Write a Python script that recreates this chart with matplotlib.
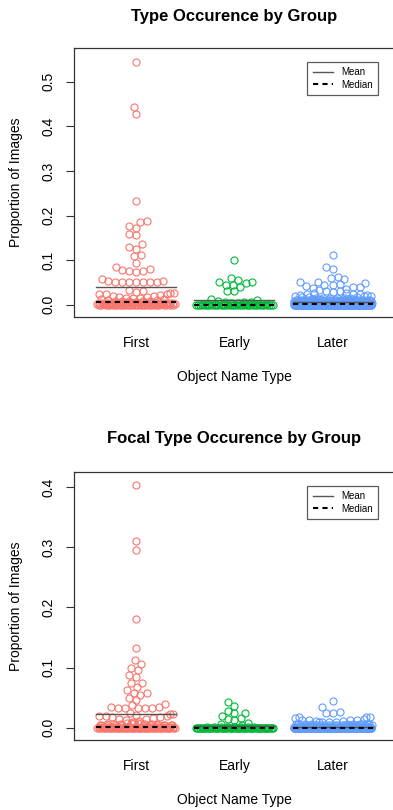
import numpy as np
import matplotlib
matplotlib.use("Agg")
import matplotlib.pyplot as plt
from matplotlib.lines import Line2D

plt.rcParams['font.family'] = ['Liberation Sans', 'DejaVu Sans']

groups = ["First", "Early", "Later"]
colors = ["#F8766D", "#00BA38", "#619CFF"]

titles = ["Type Occurence by Group", "Focal Type Occurence by Group"]
xlabel = "Object Name Type"
ylabel = "Proportion of Images"

# ---- Panel 1: Type occurrence ----
first1_top = [0.545, 0.443, 0.428, 0.232, 0.187, 0.186, 0.177, 0.173, 0.158, 0.156,
              0.135, 0.130, 0.126, 0.111, 0.109, 0.094, 0.085, 0.079, 0.078, 0.076,
              0.075, 0.074, 0.057, 0.054, 0.053, 0.052, 0.052, 0.052, 0.051, 0.051,
              0.050, 0.050, 0.033, 0.030, 0.029, 0.027, 0.026, 0.025, 0.024, 0.024,
              0.022, 0.020, 0.019, 0.018, 0.017, 0.016, 0.015, 0.014, 0.013, 0.012,
              0.011, 0.010]
first1_low_vals = [0.0, 0.002, 0.004, 0.006, 0.008]
first1_low_counts = [30, 15, 18, 6, 5]

early1_top = [0.100, 0.060, 0.055, 0.050, 0.050, 0.048, 0.045, 0.045, 0.040, 0.030,
              0.030, 0.012, 0.010, 0.008, 0.007, 0.006, 0.005]
early1_low_vals = [0.0, 0.001, 0.003]
early1_low_counts = [35, 8, 4]

later1_top = [0.111, 0.085, 0.079, 0.063, 0.060, 0.057, 0.050, 0.050, 0.048, 0.046,
              0.045, 0.045, 0.042, 0.040, 0.040, 0.038, 0.035, 0.033, 0.030, 0.030,
              0.028, 0.027, 0.026, 0.025, 0.025, 0.024, 0.022, 0.021, 0.020, 0.020,
              0.019, 0.018, 0.018, 0.017, 0.016, 0.016, 0.015, 0.015, 0.014, 0.014,
              0.013, 0.013, 0.012, 0.012]
later1_low_vals = [0.0, 0.002, 0.004, 0.006, 0.008, 0.010]
later1_low_counts = [180, 60, 40, 30, 25, 20]

# ---- Panel 2: Focal type occurrence ----
first2_top = [0.403, 0.310, 0.295, 0.180, 0.132, 0.112, 0.106, 0.099, 0.096, 0.088,
              0.085, 0.075, 0.074, 0.068, 0.063, 0.058, 0.057, 0.055, 0.049, 0.046,
              0.039, 0.037, 0.034, 0.034, 0.033, 0.033, 0.033, 0.032, 0.032, 0.025,
              0.022, 0.022, 0.021, 0.020, 0.020, 0.019, 0.018, 0.017, 0.016, 0.015,
              0.014, 0.012, 0.011, 0.010]
first2_low_vals = [0.0, 0.002, 0.004, 0.006, 0.008]
first2_low_counts = [50, 20, 12, 6, 5]

early2_top = [0.042, 0.036, 0.028, 0.025, 0.024, 0.020, 0.016, 0.014, 0.012, 0.008,
              0.006, 0.004]
early2_low_vals = [0.0, 0.001]
early2_low_counts = [60, 10]

later2_top = [0.045, 0.034, 0.026, 0.025, 0.024, 0.018, 0.017, 0.017, 0.016, 0.014,
              0.013, 0.013, 0.012, 0.012, 0.011, 0.011, 0.010, 0.010, 0.010, 0.009]
later2_low_vals = [0.0, 0.002, 0.004, 0.006]
later2_low_counts = [220, 40, 20, 10]

yticks1 = [0.0, 0.1, 0.2, 0.3, 0.4, 0.5]
yticks2 = [0.0, 0.1, 0.2, 0.3, 0.4]


def build(top, low_vals, low_counts):
    return np.concatenate([np.array(top, float), np.repeat(low_vals, low_counts)])


panel_data = [
    [build(first1_top, first1_low_vals, first1_low_counts),
     build(early1_top, early1_low_vals, early1_low_counts),
     build(later1_top, later1_low_vals, later1_low_counts)],
    [build(first2_top, first2_low_vals, first2_low_counts),
     build(early2_top, early2_low_vals, early2_low_counts),
     build(later2_top, later2_low_vals, later2_low_counts)],
]

W, H = 393, 810
fig = plt.figure(figsize=(W / 100, H / 100), dpi=100)
fig.patch.set_facecolor("white")

# axes boxes in pixels: (left, top, right, bottom)
boxes = [(74, 48, 394.7, 317), (74, 472, 394.7, 740)]
ylims = [(-0.0276, 0.5756), (-0.0204, 0.4248)]
ytick_sets = [yticks1, yticks2]
title_y = [16, 439]
xlabel_y = [377, 800]


def swarm_offsets(ypx, d, hw):
    order = np.argsort(ypx, kind="stable")
    px = np.zeros(len(ypx))
    placed_x = []
    placed_y = []
    for i in order:
        y = ypx[i]
        if placed_x:
            PX = np.array(placed_x)
            PY = np.array(placed_y)
            dy = y - PY
            near = np.abs(dy) < d
            NX = PX[near]
            NY = PY[near]
            if len(NX):
                dx = np.sqrt(d * d - (y - NY) ** 2)
                cands = np.concatenate([[0.0], NX + dx, NX - dx])
                cands = cands[np.lexsort((cands, np.abs(cands)))]
                dist2 = (cands[:, None] - NX[None, :]) ** 2 + (y - NY[None, :]) ** 2
                ok = np.all(dist2 >= d * d - 1e-6, axis=1)
                x = cands[np.argmax(ok)]
            else:
                x = 0.0
        else:
            x = 0.0
        placed_x.append(x)
        placed_y.append(y)
        px[i] = x
    # corral wrap
    px = ((px + hw) % (2 * hw)) - hw
    return px


for p in range(2):
    l, t, r, b = boxes[p]
    ax = fig.add_axes([l / W, (H - b) / H, (r - l) / W, (b - t) / H])
    ax.set_xlim(0.37, 3.63)
    ax.set_ylim(*ylims[p])
    fig.canvas.draw()
    xpix_per_unit = ax.transData.transform((1, 0))[0] - ax.transData.transform((0, 0))[0]
    for g in range(3):
        vals = panel_data[p][g]
        ypx = ax.transData.transform(np.column_stack([np.full(len(vals), g + 1.0), vals]))[:, 1]
        off = swarm_offsets(ypx, 6.9, 39.0) / xpix_per_unit
        ax.plot(g + 1 + off, vals, linestyle="none", marker="o", markersize=5.1,
                markerfacecolor="none", markeredgecolor=colors[g], markeredgewidth=0.8,
                zorder=2)
        mean = np.mean(vals)
        med = np.median(vals)
        ax.plot([g + 1 - 0.407, g + 1 + 0.407], [mean, mean], color="#555555", lw=1.0, zorder=3)
        ax.plot([g + 1 - 0.407, g + 1 + 0.407], [med, med], color="black", lw=1.5,
                linestyle=(0, (2.5, 2)), zorder=4)

    ax.set_xticks([1, 2, 3])
    ax.set_xticklabels(groups, fontsize=10)
    ax.tick_params(axis="x", length=0, pad=14)
    ax.set_yticks(ytick_sets[p])
    ax.set_yticklabels([f"{v:.1f}" for v in ytick_sets[p]], fontsize=10, rotation=90,
                       va="center")
    ax.tick_params(axis="y", length=6, width=0.8, pad=7, color="#333333")
    for s in ax.spines.values():
        s.set_color("#333333")
        s.set_linewidth(0.9)

    handles = [Line2D([], [], color="#555555", lw=1.0),
               Line2D([], [], color="black", lw=1.5, linestyle=(0, (2.5, 2)))]
    leg = ax.legend(handles, ["Mean", "Median"], loc="upper right",
                    bbox_to_anchor=((378 - l) / (r - l), (b - (t + 14)) / (b - t)),
                    borderaxespad=0, fontsize=7, handlelength=2.1, labelspacing=0.25,
                    borderpad=0.55, handletextpad=0.8, frameon=True, fancybox=False)
    leg.get_frame().set_edgecolor("#333333")
    leg.get_frame().set_linewidth(0.9)

    fig.text(234 / W, 1 - title_y[p] / H, titles[p], ha="center", va="center",
             fontsize=12, fontweight="bold")
    fig.text(234 / W, 1 - xlabel_y[p] / H, xlabel, ha="center", va="center", fontsize=10)
    fig.text(16 / W, 1 - ((t + b) / 2) / H, ylabel, ha="center", va="center",
             fontsize=10, rotation=90)

fig.savefig("out.png", dpi=100)
